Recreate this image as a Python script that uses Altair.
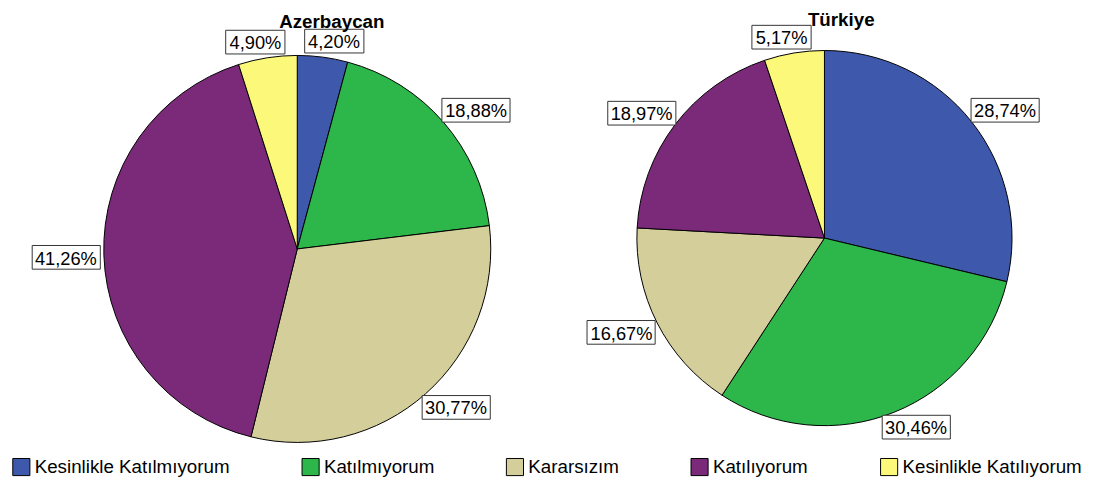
import altair as alt
import pandas as pd

categories = ["Kesinlikle Katılmıyorum", "Katılmıyorum", "Kararsızım", "Katılıyorum", "Kesinlikle Katılıyorum"]
colors = ["#3e58ac", "#2db74a", "#d3ce9a", "#7b2a7a", "#fbf87a"]
countries = ["Azerbaycan", "Türkiye"]
azerbaycan = [4.20, 18.88, 30.77, 41.26, 4.90]
turkiye = [28.74, 30.46, 16.67, 18.97, 5.17]

FONT = "Liberation Sans"
H = 446

legend = alt.Legend(
    title=None, orient="none", legendX=4, legendY=450, direction="horizontal",
    columns=5, columnPadding=70, symbolType="square", symbolSize=300,
    symbolStrokeColor="black", symbolStrokeWidth=1, symbolOpacity=1,
    labelFont=FONT, labelFontSize=19, labelColor="black", labelOffset=4,
    labelLimit=400, padding=0,
)


def pie_panel(country, values, width, cx, cy, r, title_dx, title_y):
    df = pd.DataFrame({"cat": categories, "value": values,
                       "order": list(range(len(categories)))})
    g = 4
    bh = 24
    base = alt.Chart(df).transform_joinaggregate(
        total="sum(value)"
    ).transform_window(
        cum="sum(value)", sort=[alt.SortField("order", order="ascending")], frame=[None, 0]
    )
    arcs = base.mark_arc(radius=r, stroke="black", strokeWidth=1).encode(
        theta=alt.Theta("value:Q", stack=True),
        order=alt.Order("order:Q"),
        color=alt.Color("cat:N", scale=alt.Scale(domain=categories, range=colors),
                        legend=legend),
        x=alt.value(cx),
        y=alt.value(cy),
    )
    lab = base.transform_calculate(
        a="2*PI*(datum.cum - datum.value/2)/datum.total",
        s="sin(datum.a)",
        c="cos(datum.a)",
        label="replace(format(datum.value, '.2f'), '.', ',') + '%'",
        w="15 + 9*length(datum.label)",
        px=f"{cx} + {r + g}*datum.s",
        py=f"{cy} - {r + g}*datum.c",
        bx="datum.px + (datum.s < 0 ? -1 : 1)*sqrt(abs(datum.s))*datum.w/2",
        by=f"datum.py - (datum.c < 0 ? -1 : 1)*sqrt(abs(datum.c))*{bh}/2",
        x0="floor(datum.bx - datum.w/2) + 0.5",
        x1="floor(datum.bx + datum.w/2) + 0.5",
        y0=f"floor(datum.by - {bh}/2) + 0.5",
        y1=f"floor(datum.by + {bh}/2) + 0.5",
    )
    boxes = lab.mark_rect(fill="white", stroke="#333333", strokeWidth=1).encode(
        x=alt.X("x0:Q", scale=None, axis=None),
        x2="x1:Q",
        y=alt.Y("y0:Q", scale=None, axis=None),
        y2="y1:Q",
    )
    texts = lab.mark_text(font=FONT, fontSize=18.5, color="black", align="center",
                          baseline="middle", dy=1).encode(
        x=alt.X("bx:Q", scale=None, axis=None),
        y=alt.Y("by:Q", scale=None, axis=None),
        text="label:N",
    )
    title = alt.Chart(pd.DataFrame({"t": [country]})).mark_text(
        font=FONT, fontSize=19, fontWeight="bold", color="black",
        align="center", baseline="alphabetic",
    ).encode(text="t:N", x=alt.value(cx + title_dx), y=alt.value(title_y))
    return alt.layer(arcs, boxes, texts, title).properties(width=width, height=H)


left = pie_panel(countries[0], azerbaycan, 586, 293, 239, 196, 35, 15)
right = pie_panel(countries[1], turkiye, 498, 227, 228, 190, 17, 13)

chart = alt.hconcat(left, right, spacing=0).configure_view(
    strokeWidth=0
).properties(padding=0)

chart.save("out.html", embed_options={"renderer": "svg", "actions": False})
